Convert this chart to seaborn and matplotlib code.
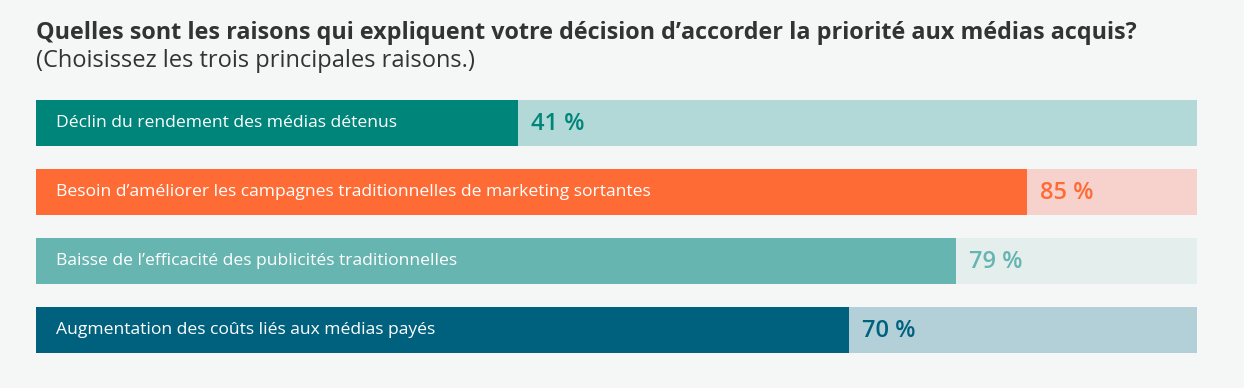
import matplotlib
matplotlib.use("Agg")
import matplotlib.pyplot as plt
import seaborn as sns
import pandas as pd

# Data
raisons = [
    "Déclin du rendement des médias détenus",
    "Besoin d’améliorer les campagnes traditionnelles de marketing sortantes",
    "Baisse de l’efficacité des publicités traditionnelles",
    "Augmentation des coûts liés aux médias payés",
]
pourcentages = [41.5, 85.4, 79.2, 70]   # bar lengths
etiquettes = ["41 %", "85 %", "79 %", "70 %"]

couleurs = ["#00857a", "#ff6b35", "#66b5b0", "#00617f"]
couleurs_fond = ["#b2d9d8", "#f7d1cc", "#e4eeed", "#b3d0d8"]

df = pd.DataFrame({"raison": raisons, "pct": pourcentages})
df["total"] = 100

sns.set_theme(style="white")
plt.rcParams["font.family"] = ["Open Sans", "DejaVu Sans"]

bg = "#f5f7f7"
fig = plt.figure(figsize=(12.44, 3.88), dpi=100, facecolor=bg)
W, H = 1244, 388
ax = fig.add_axes([36 / W, (H - 353) / H, (1197 - 36) / W, 253 / H])
ax.set_facecolor(bg)

bw = 46 / 69
sns.barplot(data=df, y="raison", x="total", hue="raison", palette=couleurs_fond,
            legend=False, width=bw, ax=ax, saturation=1, linewidth=0)
sns.barplot(data=df, y="raison", x="pct", hue="raison", palette=couleurs,
            legend=False, width=bw, ax=ax, saturation=1, linewidth=0)

ax.set_xlim(0, 100)
ax.set_ylim(len(raisons) - 1 + bw / 2, -bw / 2)
ax.axis("off")

for i, (r, p, lab, c) in enumerate(zip(raisons, pourcentages, etiquettes, couleurs)):
    ax.text(20 / 1161 * 100, i, r, color="white", fontsize=12.6, va="center", ha="left")
    ax.text(p + 13 / 1161 * 100, i + 0.02, lab, color=c, fontsize=17,
            fontweight="semibold", va="center", ha="left")

fig.text(36 / W, 1 - 33 / H, "Quelles sont les raisons qui expliquent votre décision d’accorder la priorité aux médias acquis?",
         fontsize=16.8, fontweight="bold", color="#333333", va="center", ha="left")
fig.text(36 / W, 1 - 61 / H, "(Choisissez les trois principales raisons.)",
         fontsize=17, color="#333333", va="center", ha="left")

fig.savefig("out.png", dpi=100, facecolor=bg)
